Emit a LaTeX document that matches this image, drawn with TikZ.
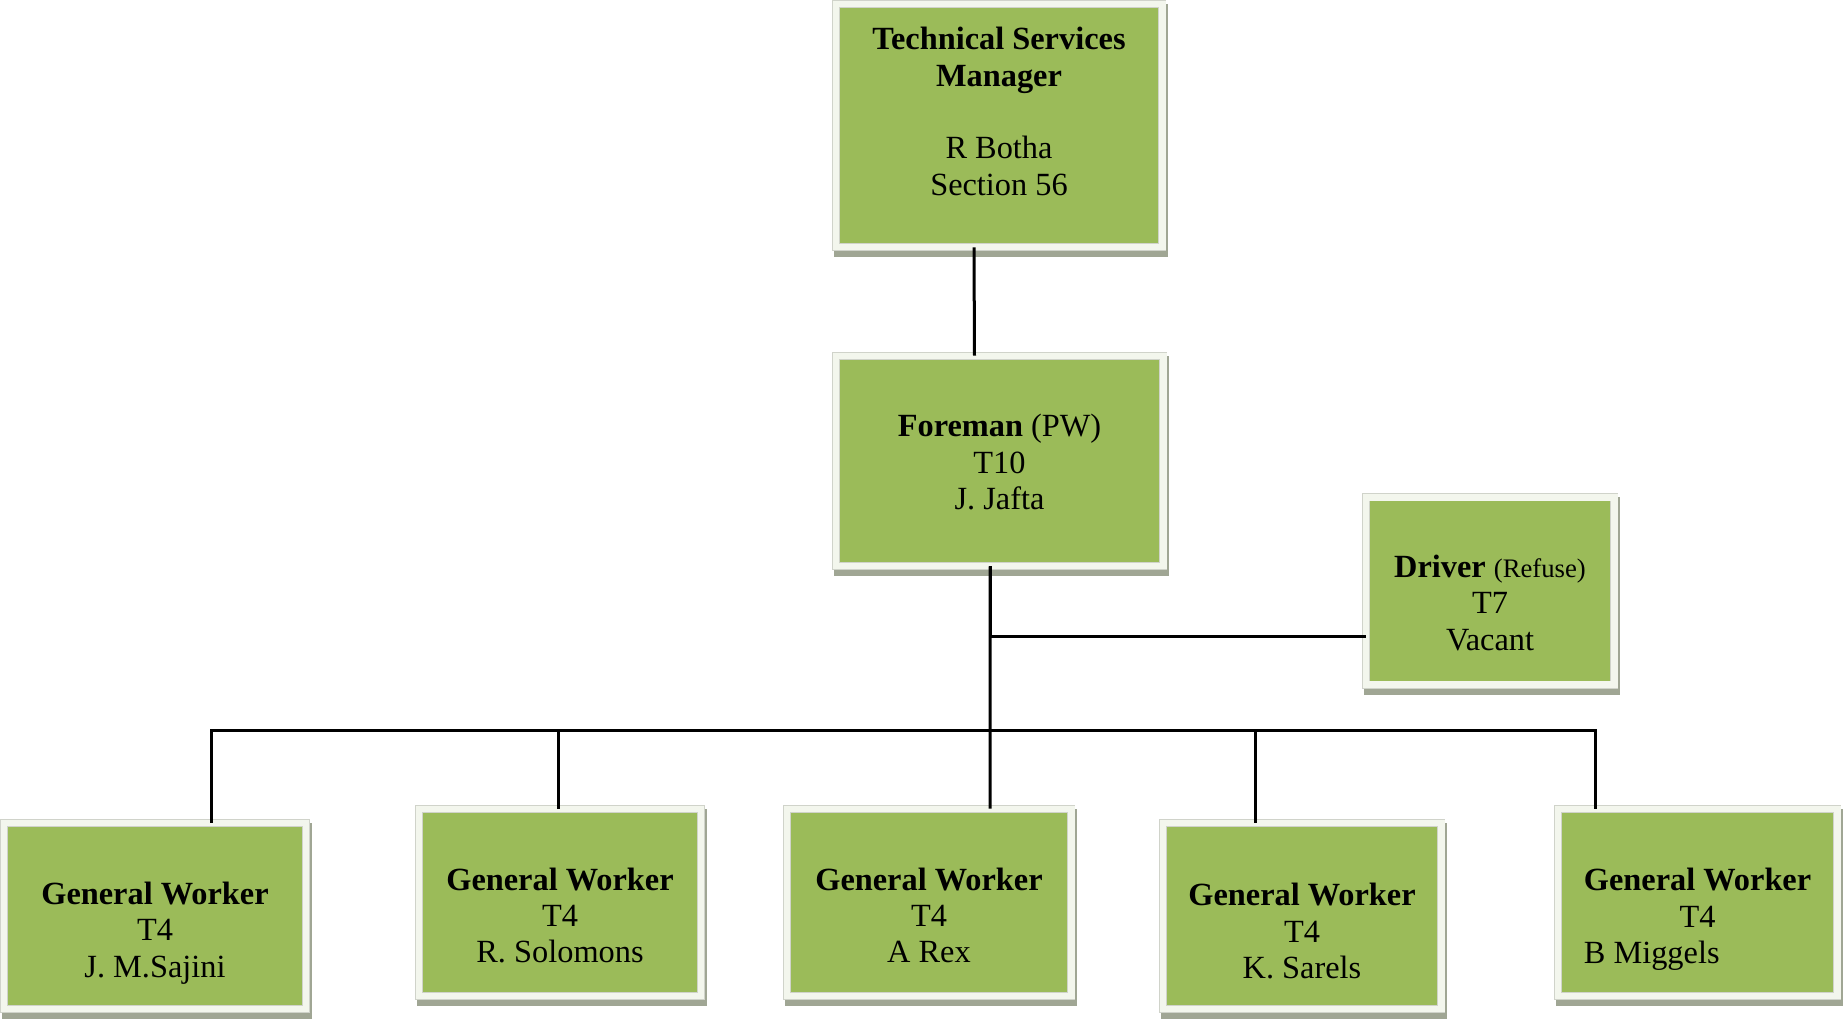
\documentclass[tikz,border=0pt]{standalone}
\usepackage{fontspec}
\setmainfont{Liberation Serif}
\usetikzlibrary{backgrounds}
\definecolor{boxgreen}{RGB}{155,187,89}
\definecolor{framec}{RGB}{243,246,237}
\definecolor{framedge}{RGB}{208,211,202}
\definecolor{shadowc}{RGB}{160,166,148}
\tikzset{
    box/.style={draw=framedge, line width=0.006cm, double=framec, double distance=0.068cm, fill=boxgreen, inner sep=0pt},
    lbl/.style={align=center, inner sep=0pt, font=\fontsize{9.2}{10.35}\selectfont},
    link/.style={line width=0.03cm},
}

\begin{document}
\begin{tikzpicture}[x=0.01cm,y=-0.01cm]
		\useasboundingbox (0,0) rectangle (1843,1021);
		% boxes
		\node[box, minimum width=3.26cm, minimum height=2.43cm,
			label={[lbl,yshift=0.14cm]center:{\textbf{Technical Services}\\\textbf{Manager}\\[10.35pt]R Botha\\Section 56}}] (tsm) at (999,125.5) {};
		\node[box, minimum width=3.27cm, minimum height=2.10cm,
			label={[lbl,yshift=-0.01cm]center:{\textbf{Foreman} (PW)\\T10\\J. Jafta}}] (fore) at (999.5,461) {};
		\node[box, minimum width=2.48cm, minimum height=1.87cm,
			label={[lbl,yshift=-0.12cm]center:{\textbf{Driver} {\fontsize{7.6}{9}\selectfont(Refuse)}\\T7\\Vacant}}] (drv) at (1490,591) {};
		\node[box, minimum width=3.02cm, minimum height=1.86cm,
			label={[lbl,yshift=-0.17cm]center:{\textbf{General Worker}\\T4\\J. M.Sajini}}] (gw1) at (155,916) {};
		\node[box, minimum width=2.82cm, minimum height=1.87cm,
			label={[lbl,yshift=-0.13cm]center:{\textbf{General Worker}\\T4\\R. Solomons}}] (gw2) at (560,902.5) {};
		\node[box, minimum width=2.84cm, minimum height=1.87cm,
			label={[lbl,yshift=-0.13cm]center:{\textbf{General Worker}\\T4\\A Rex}}] (gw3) at (929,902.5) {};
		\node[box, minimum width=2.78cm, minimum height=1.86cm,
			label={[lbl,yshift=-0.15cm]center:{\textbf{General Worker}\\T4\\K. Sarels}}] (gw4) at (1302,916) {};
		\node[box, minimum width=2.79cm, minimum height=1.87cm,
			label={[lbl,yshift=-0.17cm]center:{\textbf{General Worker}\\T4\\\rlap{B Miggels}\phantom{\textbf{General Worker}}}}] (gw5) at (1697.5,902.5) {};
		% shadows
		\begin{scope}[on background layer]
			\foreach \n in {tsm,fore,drv,gw1,gw2,gw3,gw4,gw5}
				\fill[shadowc] ([xshift=-0.02cm,yshift=-0.1cm]\n.south west) rectangle ([xshift=0.06cm]\n.north east);
		\end{scope}
		% lines
		\coordinate (bus) at (990,730);
		\draw[link] ([xshift=-0.25cm]tsm.south) -- ([xshift=-0.25cm]fore.north);
		\draw[link] ([xshift=-0.095cm]fore.south) -- ([xshift=0.61cm]gw3.north);
		\draw[link] ([yshift=-0.45cm]drv.west) -| ([xshift=-0.095cm]fore.south);
		\draw[link] ([xshift=0.56cm]gw1.north) |- (bus) -| ([xshift=-1.015cm]gw5.north);
		\draw[link] ([xshift=-0.02cm]gw2.north) |- (bus);
		\draw[link] ([xshift=-0.46cm]gw4.north) |- (bus);
	\end{tikzpicture}
\end{document}
